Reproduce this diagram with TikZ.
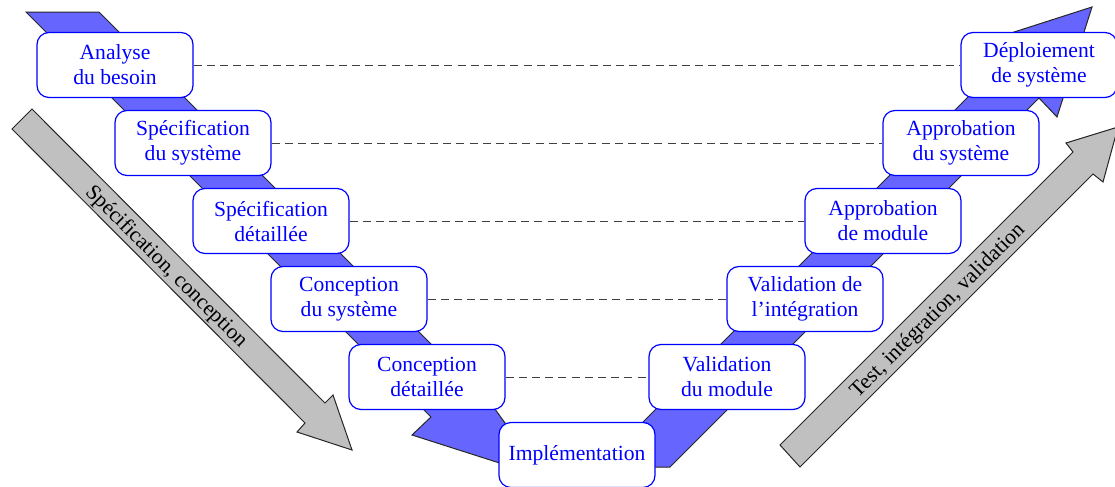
\documentclass[tikz,border=0pt]{standalone}
\usepackage{fontspec}
\setmainfont{Liberation Serif}
\pgfdeclarelayer{background}
\pgfsetlayers{background,main}
\definecolor{bandblue}{RGB}{102,102,255}
\definecolor{arrowgrey}{RGB}{192,192,192}
\begin{document}
\begin{tikzpicture}[x=0.5pt,y=-0.5pt,
  stage/.style={draw=blue, line width=0.6pt, fill=white, text=blue, rounded corners=6pt,
    minimum width=78pt, minimum height=32.5pt, inner sep=0pt, align=center,
    font=\fontsize{10.8}{12.5}\selectfont},
  link/.style={draw=black!75, line width=0.5pt, dash pattern=on 4pt off 2.6pt},
  band/.style={fill=bandblue, draw=black!85, line width=0.5pt, line join=miter},
  bigarrow/.style={fill=arrowgrey, draw=black!85, line width=0.5pt},
  arrowlabel/.style={font=\fontsize{10.8}{12.5}\selectfont, text=black, inner sep=0pt}
]
\useasboundingbox (0,0) rectangle (1115,487);

% stages
\node[stage] (A1) at (115,65)  {Analyse\\du besoin};
\node[stage] (A2) at (193,143) {Spécification\\du système};
\node[stage] (A3) at (271,221) {Spécification\\détaillée};
\node[stage] (A4) at (349,299) {Conception\\du système};
\node[stage] (A5) at (427,377) {Conception\\détaillée};
\node[stage] (I)  at (577,455) {Implémentation};
\node[stage] (B5) at (727,377) {Validation\\du module};
\node[stage] (B4) at (805,299) {Validation de\\l'intégration};
\node[stage] (B3) at (883,221) {Approbation\\de module};
\node[stage] (B2) at (961,143) {Approbation\\du système};
\node[stage] (B1) at (1039,65) {Déploiement\\de système};

\begin{pgfonlayer}{background}
% V band
\path[band] (26,12) -- (99,12) -- (492,405) -- (505,423) -- (510,440) -- (625,440)
  -- (1003,62) -- (983,42) -- (1092,7) -- (1057,117) -- (1039,98)
  -- (670,467) -- (512,467) -- (412,435) -- (431,417) -- cycle;
% grey arrows
\path[bigarrow] (32,109) -- (325,403) -- (333,395) -- (352,450) -- (297,432) -- (305,423) -- (12,129) -- cycle;
\path[bigarrow] (780,445) -- (1073,152) -- (1066,143) -- (1118,127) -- (1103,182) -- (1093,174) -- (800,467) -- cycle;
% dashed links
\draw[link] (A1.east) -- (B1.west);
\draw[link] (A2.east) -- (B2.west);
\draw[link] (A3.east) -- (B3.west);
\draw[link] (A4.east) -- (B4.west);
\draw[link] (A5.east) -- (B5.west);
\end{pgfonlayer}

\node[arrowlabel, rotate=-45] (L1) at (166,267) {Spécification, conception};
\node[arrowlabel, rotate=45] (L2) at (938,311) {Test, intégration, validation};
\end{tikzpicture}
\end{document}
